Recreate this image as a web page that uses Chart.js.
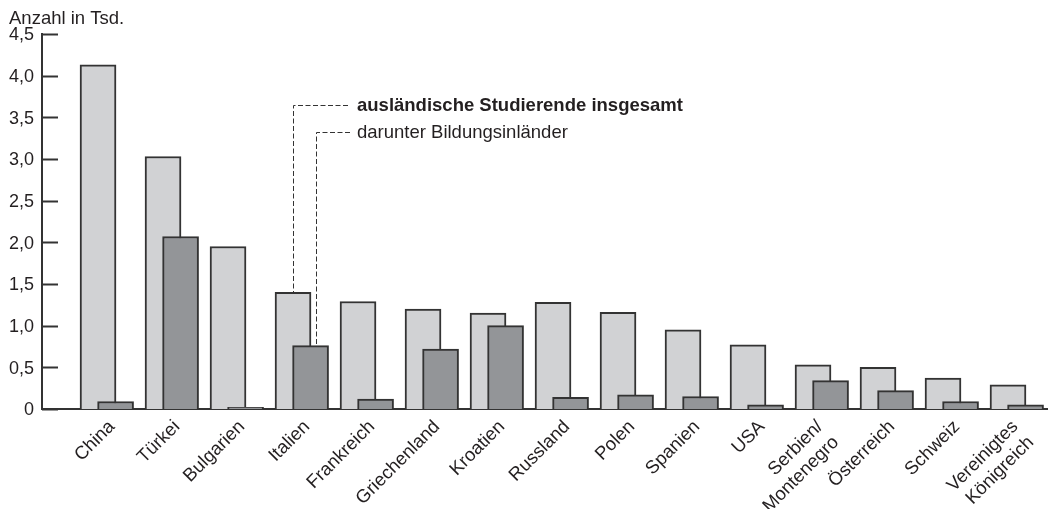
<!DOCTYPE html>
<html lang="de">
<head>
<meta charset="UTF-8">
<title>Ausländische Studierende</title>
<script src="https://cdn.jsdelivr.net/npm/chart.js"></script>
<style>
  html, body { margin: 0; padding: 0; background: #fff; }
  #wrap { width: 1054px; height: 509px; position: relative; }
</style>
</head>
<body>
<div id="wrap"><canvas id="chart"></canvas></div>
<script>
// Daten (in Tsd.)
const categories = ['China', 'Türkei', 'Bulgarien', 'Italien', 'Frankreich', 'Griechenland', 'Kroatien',
  'Russland', 'Polen', 'Spanien', 'USA', ['Serbien/', 'Montenegro'], 'Österreich', 'Schweiz',
  ['Vereinigtes', 'Königreich']];
const totals = [4.13, 3.03, 1.95, 1.40, 1.29, 1.20, 1.15, 1.28, 1.16, 0.95, 0.77, 0.53, 0.50, 0.37, 0.29];
const bildungsinlaender = [0.09, 2.07, 0.02, 0.76, 0.12, 0.72, 1.00, 0.14, 0.17, 0.15, 0.05, 0.34, 0.22, 0.09, 0.05];
const yTicks = [0, 0.5, 1, 1.5, 2, 2.5, 3, 3.5, 4, 4.5];
const seriesNames = ['ausländische Studierende insgesamt', 'darunter Bildungsinländer'];
const axisTitle = 'Anzahl in Tsd.';
const markedCategory = 3; // Italien trägt die Beschriftung

const FONT = '"Liberation Sans", Arial, sans-serif';
const FONT_SIZE = 18.5;
const INK = '#231f20';
const DARK_SHIFT = 0.27;   // Versatz der dunklen Säule (in Kategorien)

// Position der Beschriftung relativ zur hellen Säule
function labelShift(label) {
  return Array.isArray(label) ? 0.11 : 0.215;
}

// y-Achse: Ticks nach innen, Titel, Beschriftung mit Hinweislinien
const annotations = {
  id: 'annotations',
  afterDraw(chart) {
    const { ctx, scales: { x, y }, chartArea } = chart;
    ctx.save();

    // kleine Striche nach innen
    ctx.strokeStyle = '#333';
    ctx.lineWidth = 2;
    yTicks.forEach(v => {
      const py = Math.round(y.getPixelForValue(v)) + 0.5;
      ctx.beginPath();
      ctx.moveTo(chartArea.left, py);
      ctx.lineTo(chartArea.left + 16, py);
      ctx.stroke();
    });

    ctx.fillStyle = INK;
    ctx.font = FONT_SIZE + 'px ' + FONT;
    ctx.textBaseline = 'alphabetic';
    ctx.textAlign = 'left';
    ctx.fillText(axisTitle, 9, 24);

    // Hinweislinien
    const i = markedCategory;
    const x1 = Math.round(x.getPixelForValue(i)) + 0.5;
    const x2 = Math.round(x.getPixelForValue(i + DARK_SHIFT)) + 5.5;
    const y1 = 105.5, y2 = 132.5;
    ctx.strokeStyle = '#333';
    ctx.lineWidth = 1;
    ctx.setLineDash([5, 2.5]);
    ctx.beginPath();
    ctx.moveTo(348, y1); ctx.lineTo(x1, y1); ctx.lineTo(x1, y.getPixelForValue(totals[i]));
    ctx.moveTo(350, y2); ctx.lineTo(x2, y2); ctx.lineTo(x2, y.getPixelForValue(bildungsinlaender[i]));
    ctx.stroke();
    ctx.setLineDash([]);

    ctx.textBaseline = 'middle';
    ctx.font = 'bold ' + FONT_SIZE + 'px ' + FONT;
    ctx.fillText(seriesNames[0], 357, y1);
    ctx.font = FONT_SIZE + 'px ' + FONT;
    ctx.fillText(seriesNames[1], 357, y2);
    ctx.restore();
  }
};

new Chart(document.getElementById('chart'), {
  type: 'bar',
  data: {
    datasets: [
      {
        label: seriesNames[0],
        data: totals.map((v, i) => ({ x: i, y: v })),
        backgroundColor: '#d1d2d4',
        borderColor: '#333',
        borderWidth: 2,
        barThickness: 36,
        order: 2
      },
      {
        label: seriesNames[1],
        data: bildungsinlaender.map((v, i) => ({ x: i + DARK_SHIFT, y: v })),
        backgroundColor: '#939598',
        borderColor: '#333',
        borderWidth: 2,
        barThickness: 36,
        order: 1
      }
    ]
  },
  options: {
    responsive: true,
    maintainAspectRatio: false,
    animation: false,
    grouped: false,
    layout: { padding: { top: 34, right: 7, bottom: 0, left: 0 } },
    plugins: { legend: { display: false }, tooltip: { enabled: false } },
    scales: {
      x: {
        type: 'linear',
        offset: false,
        min: -0.862,
        max: 14.6,
        grid: { display: false, drawTicks: false },
        border: { display: true, color: '#333', width: 2 },
        afterBuildTicks: s => { s.ticks = categories.map((c, i) => ({ value: i + labelShift(c) })); },
        afterFit: s => { s.height = 100; },
        ticks: {
          autoSkip: false,
          minRotation: 45,
          maxRotation: 45,
          padding: 7,
          color: INK,
          font: { family: FONT, size: FONT_SIZE },
          callback: (v, idx) => categories[idx]
        }
      },
      y: {
        min: 0,
        max: 4.5,
        grid: { display: false, drawTicks: false },
        border: { display: true, color: '#333', width: 2 },
        afterBuildTicks: s => { s.ticks = yTicks.map(v => ({ value: v })); },
        afterFit: s => { s.width = 42; },
        ticks: {
          padding: 8,
          labelOffset: 1.5,
          color: INK,
          font: { family: FONT, size: 18 },
          callback: v => v === 0 ? '0' : v.toFixed(1).replace('.', ',')
        }
      }
    }
  },
  plugins: [annotations]
});
</script>
</body>
</html>
